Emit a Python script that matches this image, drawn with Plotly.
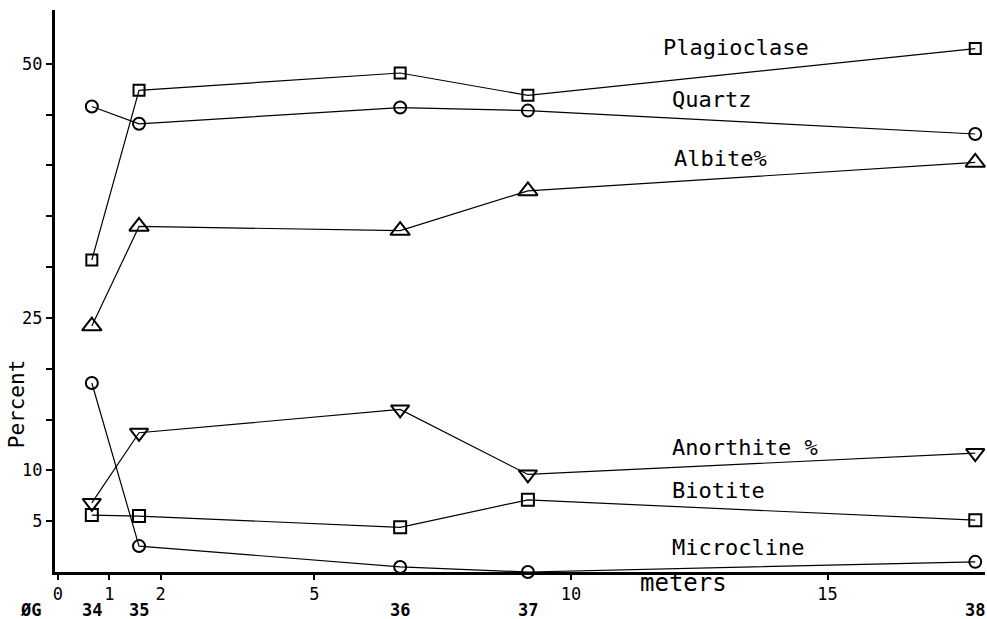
import plotly.graph_objects as go

# Sample positions (meters) and sample IDs
meters = [0.66, 1.58, 6.67, 9.16, 17.88]
sample_ids = ["34", "35", "36", "37", "38"]

plagioclase = [30.7, 47.4, 49.1, 46.9, 51.5]
quartz = [45.8, 44.1, 45.7, 45.4, 43.1]
albite = [24.2, 34.0, 33.6, 37.5, 40.3]
anorthite = [6.8, 13.7, 16.0, 9.6, 11.7]
biotite = [5.6, 5.5, 4.4, 7.1, 5.1]
microcline = [18.6, 2.55, 0.5, 0.0, 1.0]

series = [
    ("Plagioclase", plagioclase, "square-open", 11),
    ("Quartz", quartz, "circle-open", 12),
    ("Albite%", albite, "triangle-up-open", 17),
    ("Anorthite %", anorthite, "triangle-down-open", 16),
    ("Biotite", biotite, "square-open", 12),
    ("Microcline", microcline, "circle-open", 12),
]

# label positions (data coords): x left, y center
label_pos = {
    "Plagioclase": (11.75, 51.6),
    "Quartz": (11.93, 46.5),
    "Albite%": (11.97, 40.7),
    "Anorthite %": (11.93, 12.3),
    "Biotite": (11.93, 8.0),
    "Microcline": (11.93, 2.4),
}

y_tickvals = [5, 10, 15, 20, 25, 30, 35, 40, 45, 50]
y_ticktext = ["5", "10", "", "", "25", "", "", "", "", "50"]
x_tickvals = [0, 1, 2, 5, 10, 15]
x_ticktext = ["0", "1", "2", "5", "10", "15"]

FONT = "DejaVu Sans Mono"

fig = go.Figure()
for name, vals, sym, sz in series:
    fig.add_trace(go.Scatter(
        x=meters, y=vals, mode="lines+markers", name=name,
        line=dict(color="black", width=1.2),
        marker=dict(symbol=sym, size=sz, color="black", line=dict(width=2, color="black")),
        cliponaxis=False, showlegend=False,
    ))

annotations = []
for name, (lx, ly) in label_pos.items():
    annotations.append(dict(x=lx, y=ly, xref="x", yref="y", text=name,
                            showarrow=False, xanchor="left", yanchor="middle",
                            font=dict(family=FONT, size=22, color="black")))

for m, sid in zip(meters, sample_ids):
    annotations.append(dict(x=m, y=-0.068, xref="x", yref="paper", text="<b>" + sid + "</b>",
                            showarrow=False, xanchor="center", yanchor="middle",
                            font=dict(family=FONT, size=17, color="black")))
annotations.append(dict(x=-0.026, y=-0.068, xref="paper", yref="paper", text="<b>ØG</b>",
                        showarrow=False, xanchor="center", yanchor="middle",
                        font=dict(family=FONT, size=17, color="black")))
annotations.append(dict(x=12.2, y=-0.02, xref="x", yref="paper", text="meters",
                        showarrow=False, xanchor="center", yanchor="middle",
                        font=dict(family=FONT, size=24, color="black")))
annotations.append(dict(x=-0.04, y=0.30, xref="paper", yref="paper", text="Percent",
                        showarrow=False, xanchor="center", yanchor="middle", textangle=-90,
                        font=dict(family=FONT, size=21, color="black")))

fig.update_layout(
    width=987, height=619,
    margin=dict(l=55, r=2, t=10, b=47),
    paper_bgcolor="white", plot_bgcolor="white",
    annotations=annotations,
    xaxis=dict(range=[-0.058, 18.07], showgrid=False, zeroline=False,
               showline=True, linecolor="black", linewidth=3,
               ticks="outside", ticklen=5, tickwidth=2, tickcolor="black",
               tickvals=x_tickvals, ticktext=x_ticktext,
               tickfont=dict(family=FONT, size=17, color="black")),
    yaxis=dict(range=[0, 55.3], showgrid=False, zeroline=False,
               showline=True, linecolor="black", linewidth=3,
               ticks="outside", ticklen=6, tickwidth=2, tickcolor="black",
               tickvals=y_tickvals, ticktext=y_ticktext,
               tickfont=dict(family=FONT, size=17, color="black")),
)

fig.write_html("out.html")
